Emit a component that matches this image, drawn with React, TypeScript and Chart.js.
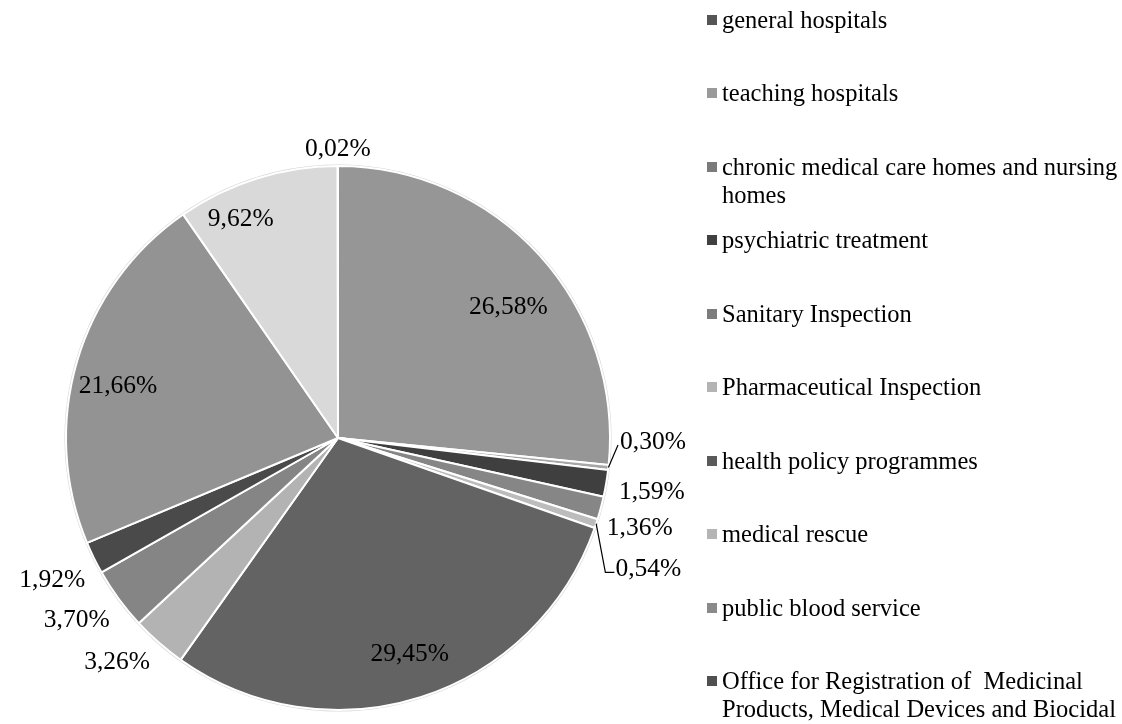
import React, { useEffect, useRef } from "react";
import { Chart, registerables } from "chart.js";

Chart.register(...registerables);

// Slices in drawing order (clockwise from 12 o'clock)
const categories = [
  "other (Biocidal Products office budget)",
  "other units",
  "Office for Registration of  Medicinal Products, Medical Devices and Biocidal Products",
  "public blood service",
  "medical rescue",
  "health policy programmes",
  "Pharmaceutical Inspection",
  "Sanitary Inspection",
  "psychiatric treatment",
  "chronic medical care homes and nursing homes",
  "teaching hospitals",
  "general hospitals",
];
const shares = [26.58, 0.3, 1.59, 1.36, 0.54, 29.45, 3.26, 3.7, 1.92, 21.66, 9.62, 0.02];
const shareLabels = ["26,58%", "0,30%", "1,59%", "1,36%", "0,54%", "29,45%", "3,26%", "3,70%", "1,92%", "21,66%", "9,62%", "0,02%"];

// styles
const sliceColors = ["#969696", "#a6a6a6", "#3f3f3f", "#868686", "#bcbcbc", "#636363", "#b3b3b3", "#858585", "#4a4a4a", "#939393", "#d9d9d9", "#595959"];
const swatchColors = ["#969696", "#a6a6a6", "#505050", "#8a8a8a", "#b4b4b4", "#5a5a5a", "#b4b4b4", "#7c7c7c", "#404040", "#7a7a7a", "#9a9a9a", "#555555"];

// label layout (radius factor relative to pie radius, angular nudge in degrees, leader line)
const labelDist = [0.79, 1.158, 1.171, 1.158, 1.239, 0.837, 1.158, 1.172, 1.173, 0.831, 0.88, 1.0625];
const labelTurn = [4.6, -5.5, 0.2, 1.7, 4.6, -0.7, 3.3, 1.3, -0.3, -3.0, -6.6, 0];
const labelLeader = [false, true, false, false, true, false, false, false, false, false, false, false];

const FONT = '"Liberation Serif", "Times New Roman", serif';
const LABEL_FONT_PX = 25.5;
const LEGEND_FONT_PX = 24.5;

const labelPlugin = {
  id: "pctLabels",
  beforeDatasetsDraw(chart: any) {
    const meta = chart.getDatasetMeta(0);
    const arc = meta.data[0];
    if (!arc) return;
    const { x, y, outerRadius } = arc.getProps(["x", "y", "outerRadius"], true);
    const ctx = chart.ctx;
    ctx.save();
    ctx.beginPath();
    ctx.arc(x, y, outerRadius + 0.5, 0, Math.PI * 2);
    ctx.strokeStyle = "#d4d4d4";
    ctx.lineWidth = 2;
    ctx.stroke();
    ctx.restore();
  },
  afterDatasetsDraw(chart: any) {
    const meta = chart.getDatasetMeta(0);
    const ctx = chart.ctx;
    ctx.save();
    ctx.font = `${LABEL_FONT_PX}px ${FONT}`;
    ctx.fillStyle = "#000";
    ctx.textBaseline = "middle";
    ctx.textAlign = "center";
    meta.data.forEach((el: any, i: number) => {
      const { x, y, startAngle, endAngle, outerRadius } = el.getProps(
        ["x", "y", "startAngle", "endAngle", "outerRadius"],
        true
      );
      const midRaw = (startAngle + endAngle) / 2;
      const mid = midRaw + (labelTurn[i] * Math.PI) / 180;
      const r = outerRadius * labelDist[i];
      const cx = x + Math.cos(mid) * r;
      const cy = y + Math.sin(mid) * r;
      const text = shareLabels[i];
      ctx.fillText(text, cx, cy);
      if (labelLeader[i]) {
        const w = ctx.measureText(text).width;
        const tl = cx - w / 2;
        const ax = x + Math.cos(midRaw) * outerRadius;
        const ay = y + Math.sin(midRaw) * outerRadius;
        ctx.beginPath();
        ctx.strokeStyle = "#000";
        ctx.lineWidth = 1.2;
        ctx.moveTo(ax, ay);
        if (cy > ay) {
          ctx.lineTo(tl - 10, cy + 3);
          ctx.lineTo(tl - 1, cy + 3);
        } else {
          ctx.lineTo(tl - 2, cy + 3);
        }
        ctx.stroke();
      }
    });
    ctx.restore();
  },
};

export default function App() {
  const canvasRef = useRef<HTMLCanvasElement | null>(null);

  useEffect(() => {
    if (!canvasRef.current) return;
    const chart = new Chart(canvasRef.current, {
      type: "pie",
      data: {
        labels: categories,
        datasets: [
          {
            data: shares,
            backgroundColor: sliceColors,
            borderColor: "#ffffff",
            borderWidth: 2,
          },
        ],
      },
      options: {
        responsive: false,
        animation: false,
        layout: { padding: { left: 65, right: 511, top: 165, bottom: 13 } },
        plugins: {
          legend: { display: false },
          tooltip: { enabled: false },
        },
      },
      plugins: [labelPlugin],
    });
    return () => chart.destroy();
  }, []);

  const legendItems = categories.map((c, i) => ({ c, col: swatchColors[i] })).reverse();

  return (
    <div
      style={{
        position: "absolute",
        left: 0,
        top: 0,
        width: 1122,
        height: 724,
        overflow: "hidden",
        background: "#fff",
      }}
    >
      <canvas ref={canvasRef} width={1122} height={724} style={{ position: "absolute", left: 0, top: 0 }} />
      <div style={{ position: "absolute", left: 707, top: 6, width: 415 }}>
        {legendItems.map((it, i) => (
          <div
            key={i}
            style={{
              height: 73.44,
              display: "flex",
              alignItems: "flex-start",
              fontFamily: FONT,
              fontSize: LEGEND_FONT_PX,
              lineHeight: "28px",
              color: "#000",
            }}
          >
            <div
              style={{
                width: 10,
                height: 10,
                marginTop: 9,
                background: it.col,
                flex: "0 0 10px",
              }}
            />
            <div style={{ marginLeft: 5, width: 400, whiteSpace: "pre-wrap" }}>{it.c}</div>
          </div>
        ))}
      </div>
    </div>
  );
}
